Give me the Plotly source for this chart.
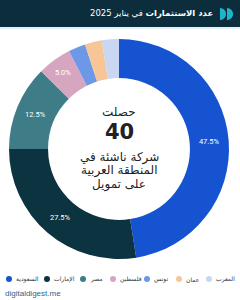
import plotly.graph_objects as go
import math

countries = ["السعودية", "الإمارات", "مصر", "فلسطين", "تونس", "عمان", "المغرب"]
shares = [47.5, 27.5, 12.5, 5.0, 2.5, 2.5, 2.5]
colors = ["#1553d0", "#0b3340", "#3e7d88", "#d6a6c1", "#6d98e6", "#f6c696", "#c9d7f3"]
title_bold = "عدد الاستثمارات"
title_rest = "في يناير 2025"
center_lines = ["حصلت", "40", "شركة ناشئة في", "المنطقة العربية", "على تمويل"]
source = "digitaldigest.me"

W, H = 240, 300
def py(px):
    return 1 - px / H
def px_(x):
    return x / W

labels_txt = [f"{v:.1f}%" if v >= 5 else "" for v in shares]

fig = go.Figure()
fig.add_trace(go.Pie(
    labels=countries, values=shares, text=labels_txt, textinfo="text",
    marker=dict(colors=colors, line=dict(width=0)),
    hole=0.645, sort=False, direction="clockwise", rotation=0,
    textposition="inside", insidetextorientation="horizontal",
    insidetextfont=dict(color="white", size=7.5, family="Roboto"),
    domain=dict(x=[px_(8), px_(230)], y=[py(259), py(39)]),
    showlegend=False, hoverinfo="label+percent",
))

shapes = []
annotations = []
# header bar
shapes.append(dict(type="rect", xref="paper", yref="paper", x0=0, x1=1, y0=py(27), y1=1,
                   fillcolor="#0c2d3c", line=dict(width=0), layer="below"))
shapes.append(dict(type="rect", xref="paper", yref="paper", x0=0, x1=1, y0=py(29), y1=py(27),
                   fillcolor="#e3f1f5", line=dict(width=0), layer="below"))

def half_disc(x0, yc, r):
    pts = []
    n = 16
    for i in range(n + 1):
        a = -math.pi / 2 + math.pi * i / n
        pts.append((x0 + r * math.cos(a), yc + r * math.sin(a)))
    path = "M " + " L ".join(f"{px_(x):.4f},{py(y):.4f}" for x, y in pts) + " Z"
    return dict(type="path", xref="paper", yref="paper", path=path,
                fillcolor="#1eb4cc", line=dict(width=0))
shapes.append(half_disc(220, 14, 6))
shapes.append(half_disc(227, 14, 6))

annotations.append(dict(x=px_(215), y=py(14), xref="paper", yref="paper",
                        text=f"<b>{title_bold}</b> {title_rest}", showarrow=False,
                        xanchor="right", yanchor="middle",
                        font=dict(color="white", size=8.5, family="DejaVu Sans")))

# center text
center_y = [112, 132, 158, 171, 184]
center_size = [12, 21, 12, 12, 12]
for t, yv, s in zip(center_lines, center_y, center_size):
    annotations.append(dict(x=px_(119), y=py(yv), xref="paper", yref="paper",
                            text=f"<b>{t}</b>" if t.isdigit() else t, showarrow=False,
                            xanchor="center", yanchor="middle",
                            font=dict(color="#222222", size=s, family="DejaVu Sans")))

# legend (manual, marker then text)
legend_x = [9, 47, 83, 113, 147, 179, 209]
for name, col, lx in zip(countries, colors, legend_x):
    r = 3
    shapes.append(dict(type="circle", xref="paper", yref="paper",
                       x0=px_(lx - r), x1=px_(lx + r), y0=py(279 + r), y1=py(279 - r),
                       fillcolor=col, line=dict(width=0)))
    annotations.append(dict(x=px_(lx + 5), y=py(279), xref="paper", yref="paper",
                            text=name, showarrow=False, xanchor="left", yanchor="middle",
                            font=dict(color="#333333", size=6, family="DejaVu Sans")))

annotations.append(dict(x=px_(3), y=py(293), xref="paper", yref="paper", text=source,
                        showarrow=False, xanchor="left", yanchor="middle",
                        font=dict(color="#2f5f8f", size=8, family="Liberation Sans")))

fig.update_layout(width=W, height=H, margin=dict(l=0, r=0, t=0, b=0),
                  paper_bgcolor="white", plot_bgcolor="white",
                  shapes=shapes, annotations=annotations)
fig.write_html("out.html")
